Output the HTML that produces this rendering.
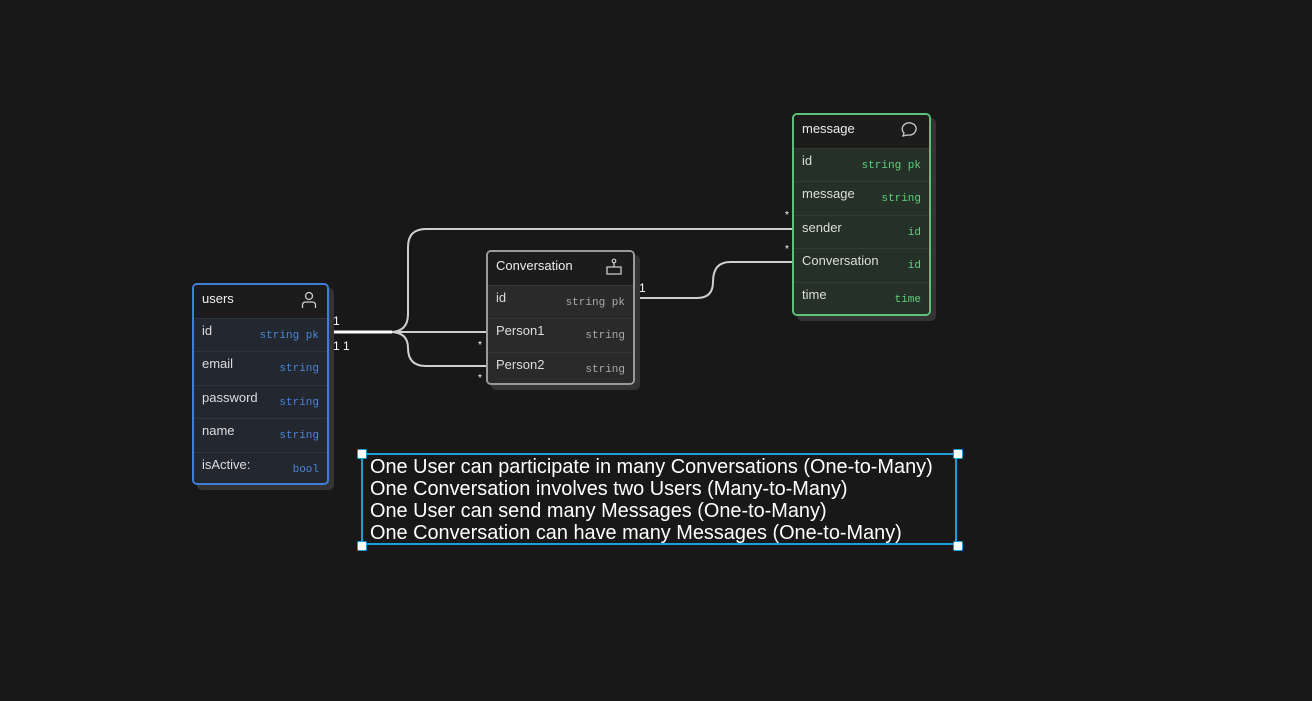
<!DOCTYPE html>
<html><head><style>
body{margin:0;width:1312px;height:701px;background:#181818;overflow:hidden;position:relative;font-family:"Liberation Sans",sans-serif;}
.t{position:absolute;border:2px solid;border-radius:5px;box-sizing:border-box;box-shadow:5px 5px 0 #343434;overflow:hidden}
.h{height:33px;line-height:27px;padding-left:8px;font-size:13px;color:#eee;background:#1c1c1c;position:relative}
.r{height:33.4px;line-height:24px;padding:0 8px;font-size:13px;color:#ddd;border-top:1px solid rgba(255,255,255,0.06);box-sizing:border-box;position:relative}
.r span{position:absolute;right:8px;top:5px;font-family:"Liberation Mono",monospace;font-size:11px}
.ic{position:absolute;right:10px;top:6px}
.lb{position:absolute;color:#fff;font-size:12px}
</style></head><body>
<svg width="1312" height="701" style="position:absolute;left:0;top:0">
<g fill="none" stroke="#cfcfcf" stroke-width="2">
<path d="M329 332 H390 Q408 332 408 314 V247 Q408 229 426 229 H793"/>
<path d="M329 332 H486"/>
<path d="M390 332 Q408 332 408 348 Q408 366 426 366 H486"/>
<path d="M634 298 H697 Q713 298 713 282 Q713 262 730 262 H793"/>
</g>
<path d="M329 332 H392" stroke="#fff" stroke-width="3"/>
</svg>
<div class="t" style="left:192px;top:283px;width:137px;height:202px;border-color:#3f7fd8">
<div class="h">users<svg class="ic" width="16" height="18" viewBox="0 0 16 18"><circle cx="8" cy="5" r="3.5" fill="none" stroke="#ccc" stroke-width="1.3"/><path d="M1.5 17 V14 Q1.5 11 5 11 H11 Q14.5 11 14.5 14 V17" fill="none" stroke="#ccc" stroke-width="1.3"/></svg></div>
<div style="background:#222730;height:170px">
<div class="r">id<span style="color:#4b86d6">string pk</span></div>
<div class="r">email<span style="color:#4b86d6">string</span></div>
<div class="r">password<span style="color:#4b86d6">string</span></div>
<div class="r">name<span style="color:#4b86d6">string</span></div>
<div class="r">isActive:<span style="color:#4b86d6">bool</span></div>
</div></div>
<div class="t" style="left:486px;top:250px;width:149px;height:135px;border-color:#9a9a9a">
<div class="h">Conversation<svg class="ic" width="18" height="18" viewBox="0 0 18 18"><circle cx="9" cy="3" r="1.8" fill="none" stroke="#ccc" stroke-width="1.2"/><path d="M9 5 V9 M2 9 H16 V16 H2 Z" fill="none" stroke="#ccc" stroke-width="1.3"/></svg></div>
<div style="background:#2a2a2a;height:102px">
<div class="r">id<span style="color:#aaa">string pk</span></div>
<div class="r">Person1<span style="color:#aaa">string</span></div>
<div class="r">Person2<span style="color:#aaa">string</span></div>
</div></div>
<div class="t" style="left:792px;top:113px;width:139px;height:203px;border-color:#5fc07a">
<div class="h">message<svg class="ic" width="20" height="18" viewBox="0 0 20 18"><path d="M4 15 L5 12 Q2 9 4 5 Q7 1 12 2 Q18 4 17 9 Q15 15 8 14 Z" fill="none" stroke="#ccc" stroke-width="1.3"/></svg></div>
<div style="background:#243028;height:170px">
<div class="r">id<span style="color:#5fcf7a">string pk</span></div>
<div class="r">message<span style="color:#5fcf7a">string</span></div>
<div class="r">sender<span style="color:#5fcf7a">id</span></div>
<div class="r">Conversation<span style="color:#5fcf7a">id</span></div>
<div class="r">time<span style="color:#5fcf7a">time</span></div>
</div></div>
<div class="lb" style="left:333px;top:314px">1</div>
<div class="lb" style="left:333px;top:339px">1 1</div>
<div class="lb" style="left:478px;top:340px;font-size:10px">*</div>
<div class="lb" style="left:478px;top:373px;font-size:10px">*</div>
<div class="lb" style="left:639px;top:281px">1</div>
<div class="lb" style="left:785px;top:210px;font-size:10px">*</div>
<div class="lb" style="left:785px;top:244px;font-size:10px">*</div>
<div style="position:absolute;left:361px;top:453px;width:596px;height:92px;border:2px solid #1a9fd6;box-sizing:border-box"></div>
<div style="position:absolute;left:357px;top:449px;width:8px;height:8px;background:#fff;border:1px solid #1a9fd6;border-radius:2px"></div>
<div style="position:absolute;left:953px;top:449px;width:8px;height:8px;background:#fff;border:1px solid #1a9fd6;border-radius:2px"></div>
<div style="position:absolute;left:357px;top:541px;width:8px;height:8px;background:#fff;border:1px solid #1a9fd6;border-radius:2px"></div>
<div style="position:absolute;left:953px;top:541px;width:8px;height:8px;background:#fff;border:1px solid #1a9fd6;border-radius:2px"></div>
<div style="position:absolute;left:370px;top:456px;color:#fff;font-size:19.9px;line-height:22px;white-space:nowrap">One User can participate in many Conversations (One-to-Many)<br>One Conversation involves two Users (Many-to-Many)<br>One User can send many Messages (One-to-Many)<br>One Conversation can have many Messages (One-to-Many)</div>
</body></html>
